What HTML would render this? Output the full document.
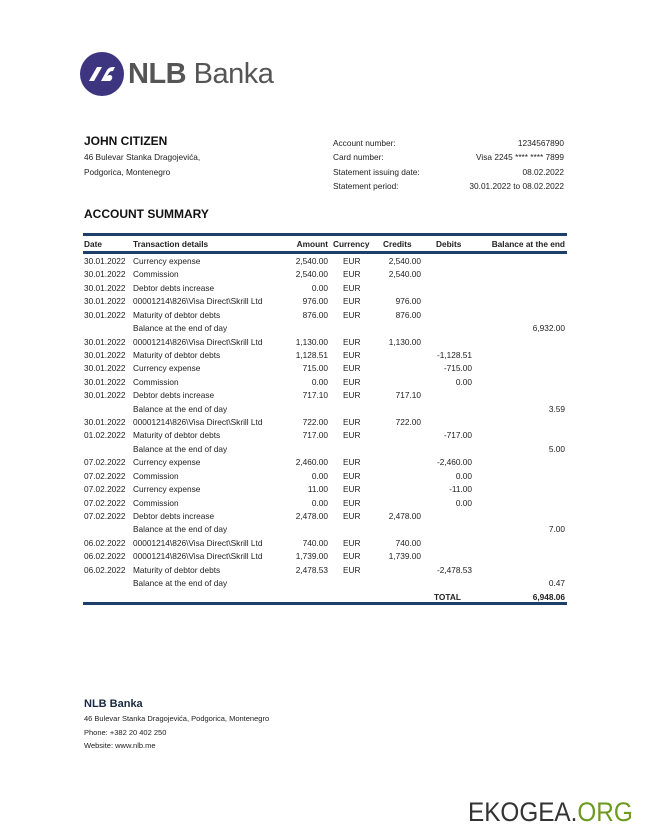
<!DOCTYPE html>
<html><head><meta charset="utf-8"><style>
body{margin:0;width:649px;height:839px;background:#fff;position:relative;overflow:hidden;font-family:"Liberation Sans",sans-serif;color:#222}
.a{position:absolute;white-space:nowrap}
.s{font-size:8.3px}
.r{text-align:right}
.b{font-weight:bold}
.bar{position:absolute;left:83px;width:484px;background:#1f3f6b}
</style></head><body>
<svg class="a" style="left:80px;top:52px" width="44" height="44"><circle cx="22" cy="22" r="22" fill="#3d3580"/>
<path d="M9 29 L17 15 L22 15 L14 29Z M21 29 L27 18 Q29 15 33 15 L35 15 L33 19 Q30 19 29 21 L27 24 Q30 22 32 24 Q33 27 30 29Z" fill="#fff"/></svg>
<div class="a" style="left:128px;top:58px;font-size:29px;color:#555;letter-spacing:-0.5px"><b>NLB</b> Banka</div>

<div class="a b" style="left:84px;top:134px;font-size:12px;color:#111">JOHN CITIZEN</div>
<div class="a s" style="left:84px;top:152px">46 Bulevar Stanka Dragojevića,</div>
<div class="a s" style="left:84px;top:167px">Podgorica, Montenegro</div>
<div class="a s" style="left:333px;top:138px">Account number:</div>
<div class="a s" style="left:333px;top:152px">Card number:</div>
<div class="a s" style="left:333px;top:167px">Statement issuing date:</div>
<div class="a s" style="left:333px;top:181px">Statement period:</div>
<div class="a s r" style="right:85px;top:138px">1234567890</div>
<div class="a s r" style="right:85px;top:152px">Visa 2245 **** **** 7899</div>
<div class="a s r" style="right:85px;top:167px">08.02.2022</div>
<div class="a s r" style="right:85px;top:181px">30.01.2022 to 08.02.2022</div>
<div class="a b" style="left:84px;top:207px;font-size:12px;color:#111">ACCOUNT SUMMARY</div>

<div class="bar" style="top:233px;height:3px"></div>
<div class="bar" style="top:251px;height:3px"></div>
<div class="bar" style="top:602px;height:3px"></div>
<div class="a s b" style="left:84px;top:239px">Date</div>
<div class="a s b" style="left:133px;top:239px">Transaction details</div>
<div class="a s b r" style="right:321px;top:239px">Amount</div>
<div class="a s b" style="left:333px;top:239px">Currency</div>
<div class="a s b" style="left:383px;top:239px">Credits</div>
<div class="a s b" style="left:436px;top:239px">Debits</div>
<div class="a s b r" style="right:84px;top:239px">Balance at the end</div>
<div id="rows"></div>
<div class="a s b" style="left:434px;top:592px">TOTAL</div>
<div class="a s b r" style="right:84px;top:592px">6,948.06</div>

<div class="a b" style="left:84px;top:698px;font-size:11px;color:#1a2a44">NLB Banka</div>
<div class="a" style="left:84px;top:714px;font-size:7.5px">46 Bulevar Stanka Dragojevića, Podgorica, Montenegro</div>
<div class="a" style="left:84px;top:728px;font-size:7.5px">Phone: +382 20 402 250</div>
<div class="a" style="left:84px;top:741px;font-size:7.5px">Website: www.nlb.me</div>
<div class="a" style="left:468px;top:797px;font-size:27px;color:#333;transform:scaleX(0.9);transform-origin:left">EKOGEA.<span style="color:#6b9a1f">ORG</span></div>

<script>
var R=[
["30.01.2022","Currency expense","2,540.00","EUR","2,540.00","",""],
["30.01.2022","Commission","2,540.00","EUR","2,540.00","",""],
["30.01.2022","Debtor debts increase","0.00","EUR","","",""],
["30.01.2022","00001214\\826\\Visa Direct\\Skrill Ltd","976.00","EUR","976.00","",""],
["30.01.2022","Maturity of debtor debts","876.00","EUR","876.00","",""],
["","Balance at the end of day","","","","","6,932.00"],
["30.01.2022","00001214\\826\\Visa Direct\\Skrill Ltd","1,130.00","EUR","1,130.00","",""],
["30.01.2022","Maturity of debtor debts","1,128.51","EUR","","-1,128.51",""],
["30.01.2022","Currency expense","715.00","EUR","","-715.00",""],
["30.01.2022","Commission","0.00","EUR","","0.00",""],
["30.01.2022","Debtor debts increase","717.10","EUR","717.10","",""],
["","Balance at the end of day","","","","","3.59"],
["30.01.2022","00001214\\826\\Visa Direct\\Skrill Ltd","722.00","EUR","722.00","",""],
["01.02.2022","Maturity of debtor debts","717.00","EUR","","-717.00",""],
["","Balance at the end of day","","","","","5.00"],
["07.02.2022","Currency expense","2,460.00","EUR","","-2,460.00",""],
["07.02.2022","Commission","0.00","EUR","","0.00",""],
["07.02.2022","Currency expense","11.00","EUR","","-11.00",""],
["07.02.2022","Commission","0.00","EUR","","0.00",""],
["07.02.2022","Debtor debts increase","2,478.00","EUR","2,478.00","",""],
["","Balance at the end of day","","","","","7.00"],
["06.02.2022","00001214\\826\\Visa Direct\\Skrill Ltd","740.00","EUR","740.00","",""],
["06.02.2022","00001214\\826\\Visa Direct\\Skrill Ltd","1,739.00","EUR","1,739.00","",""],
["06.02.2022","Maturity of debtor debts","2,478.53","EUR","","-2,478.53",""],
["","Balance at the end of day","","","","","0.47"]];
var h="";
R.forEach(function(r,i){var t=256+i*13.42;
function c(v,st){return v?'<div class="a s" style="'+st+';top:'+t+'px">'+v+'</div>':'';}
h+=c(r[0],"left:84px")+c(r[1],"left:133px")+c(r[2],"right:321px")+c(r[3],"left:343px")+c(r[4],"right:228px")+c(r[5],"right:177px")+c(r[6],"right:84px");});
document.getElementById("rows").innerHTML=h;
</script>
</body></html>
